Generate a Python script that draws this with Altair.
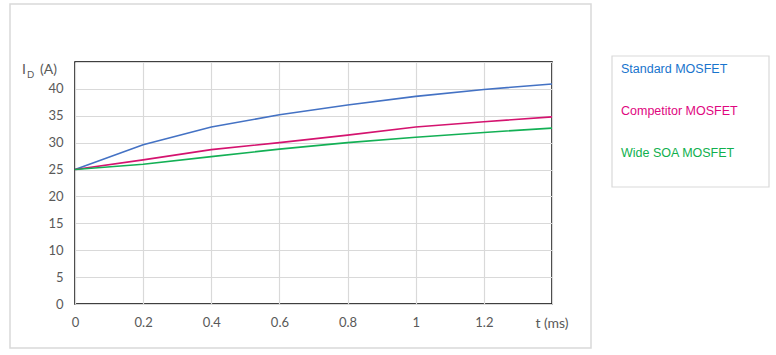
import altair as alt
import pandas as pd

t_ms = [0, 0.2, 0.4, 0.6, 0.8, 1.0, 1.2, 1.4]
standard = [25.0, 29.6, 32.9, 35.2, 37.0, 38.6, 39.9, 40.9]
competitor = [25.0, 26.8, 28.7, 30.0, 31.4, 32.9, 33.9, 34.8]
wide_soa = [25.0, 26.0, 27.4, 28.8, 30.0, 31.0, 31.9, 32.7]
series_names = ["Standard MOSFET", "Competitor MOSFET", "Wide SOA MOSFET"]
line_colors = ["#4472C4", "#D4136F", "#13B055"]
text_colors = ["#1874CD", "#E0067F", "#10B04E"]
y_ticks = [0, 5, 10, 15, 20, 25, 30, 35, 40]
x_ticks = [0, 0.2, 0.4, 0.6, 0.8, 1.0, 1.2, 1.4]

rows = []
for name, vals in zip(series_names, [standard, competitor, wide_soa]):
    for t, v in zip(t_ms, vals):
        rows.append({"t": t, "I": v, "series": name})
df = pd.DataFrame(rows)
legend_df = pd.DataFrame({"series": series_names})

FONT = "Lato"
GRID = "#D9D9D9"

lines = alt.Chart(df).mark_line(strokeWidth=1.6).encode(
    x=alt.X("t:Q", scale=alt.Scale(domain=[0, 1.4], nice=False),
            axis=alt.Axis(values=x_ticks, title=None, ticks=False, domain=False,
                          labelExpr="datum.value > 1.3 ? '' : format(datum.value, '~g')",
                          labelFlush=False,
                          labelPadding=12, labelFont=FONT, labelFontSize=13,
                          labelColor="#595959", gridColor=GRID, gridWidth=1.2)),
    y=alt.Y("I:Q", scale=alt.Scale(domain=[0, 45], nice=False),
            axis=alt.Axis(values=y_ticks + [45], title=None, ticks=False, domain=False,
                          labelExpr="datum.value > 42 ? '' : datum.label",
                          labelFlush=False,
                          labelPadding=12, labelFont=FONT, labelFontSize=13,
                          labelColor="#595959", gridColor=GRID, gridWidth=1.2)),
    color=alt.Color("series:N", sort=series_names,
                    scale=alt.Scale(domain=series_names, range=line_colors), legend=None),
)

one = alt.Data(values=[{"a": 1}])

outer_box = alt.Chart(one).mark_rect(fill=None, stroke="#D9D9D9", strokeWidth=1.5).encode(
    x=alt.value(-65), x2=alt.value(516), y=alt.value(-58), y2=alt.value(286))

legend_box = alt.Chart(one).mark_rect(fill=None, stroke="#D9D9D9", strokeWidth=1.2).encode(
    x=alt.value(537), x2=alt.value(694), y=alt.value(-6), y2=alt.value(125))

legend_text = alt.Chart(legend_df).mark_text(
    align="left", baseline="middle", font="Liberation Sans", fontSize=12.5).encode(
    x=alt.value(546),
    y=alt.Y("series:N", sort=series_names, axis=None,
            scale=alt.Scale(type="point", domain=series_names, range=[7, 91], padding=0)),
    color=alt.Color("series:N", sort=series_names,
                    scale=alt.Scale(domain=series_names, range=text_colors), legend=None),
    text="series:N",
)

y_title_I = alt.Chart(one).mark_text(align="left", baseline="middle", font=FONT,
                                     fontSize=14, color="#595959").encode(
    x=alt.value(-53), y=alt.value(8), text=alt.value("I"))
y_title_D = alt.Chart(one).mark_text(align="left", baseline="middle", font=FONT,
                                     fontSize=9.5, color="#595959").encode(
    x=alt.value(-48), y=alt.value(13), text=alt.value("D"))
y_title_A = alt.Chart(one).mark_text(align="left", baseline="middle", font=FONT,
                                     fontSize=14, color="#595959").encode(
    x=alt.value(-35), y=alt.value(8), text=alt.value("(A)"))
x_title = alt.Chart(one).mark_text(align="center", baseline="middle", font=FONT,
                                   fontSize=14, color="#595959").encode(
    x=alt.value(477), y=alt.value(262), text=alt.value("t (ms)"))

chart = alt.layer(
    outer_box, legend_box, lines, legend_text, y_title_I, y_title_D, y_title_A, x_title
).resolve_scale(y="independent", color="independent").properties(
    width=477, height=242,
    autosize=alt.AutoSizeParams(type="none"),
    padding={"left": 75, "top": 62, "right": 224, "bottom": 51},
    background="white",
).configure_view(stroke="#000000", strokeWidth=1.5)

chart.save("out.html", embed_options={"renderer": "svg", "actions": False})
